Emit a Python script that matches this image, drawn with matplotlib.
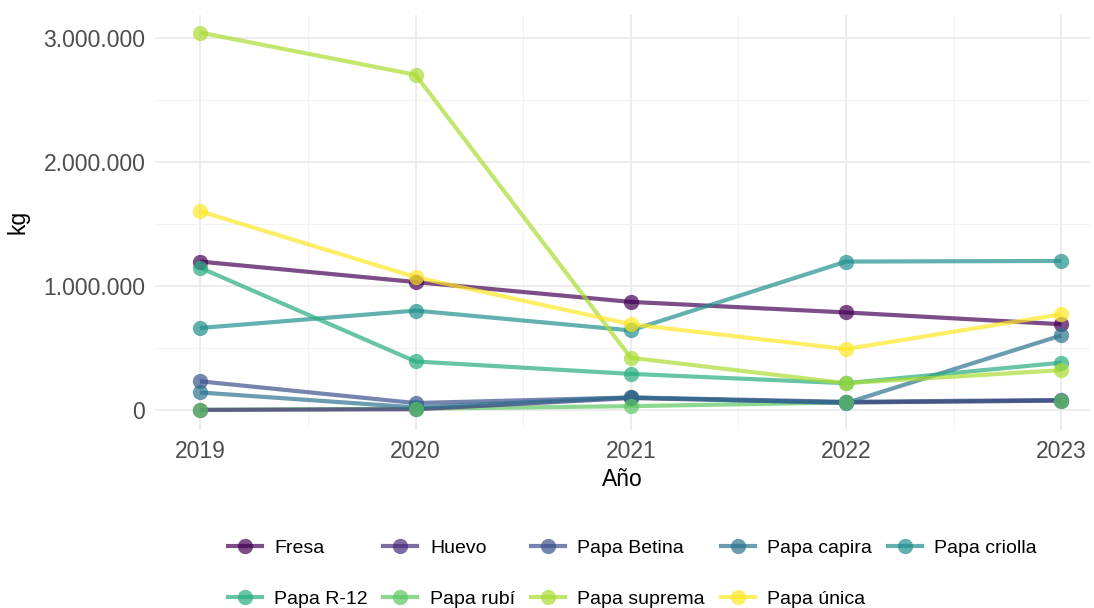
import numpy as np
import matplotlib
matplotlib.use("Agg")
import matplotlib.pyplot as plt
from matplotlib.lines import Line2D
from matplotlib.ticker import FuncFormatter, MultipleLocator

years = [2019, 2020, 2021, 2022, 2023]
products = ["Fresa", "Huevo", "Papa Betina", "Papa capira", "Papa criolla",
            "Papa R-12", "Papa rubí", "Papa suprema", "Papa única"]

fresa = [1195000, 1030000, 870000, 785000, 690000]
huevo = [0, 5000, 95000, 60000, 75000]
papa_betina = [230000, 55000, 100000, 65000, 80000]
papa_capira = [140000, 20000, 100000, 55000, 600000]
papa_criolla = [660000, 800000, 640000, 1195000, 1200000]
papa_r12 = [1145000, 390000, 290000, 215000, 380000]
papa_rubi = [0, 10000, 30000, 60000, 75000]
papa_suprema = [3040000, 2700000, 420000, 215000, 320000]
papa_unica = [1600000, 1070000, 690000, 490000, 770000]

series = [fresa, huevo, papa_betina, papa_capira, papa_criolla,
          papa_r12, papa_rubi, papa_suprema, papa_unica]

colors = ["#440154", "#472D7B", "#3B528B", "#2C728E", "#21908C",
          "#27AD81", "#5DC863", "#AADC32", "#FDE725"]

plt.rcParams['font.family'] = ['Liberation Sans', 'DejaVu Sans']

fig = plt.figure(figsize=(10.94, 6.08), dpi=100)
ax = fig.add_axes([0.1417, 0.293, 0.855, 0.683])

# lines first, points on top (like geom_line + geom_point)
handles = []
for name, vals, c in zip(products, series, colors):
    z = 1.8 if name == "Papa rubí" else 2
    ax.plot(years, vals, color=c, alpha=0.7, lw=3, zorder=z, solid_capstyle='butt')
    ax.plot(years, vals, color=c, alpha=0.7, ls='none', marker='o', ms=11,
            markeredgewidth=0, zorder=3)
    handles.append(Line2D([], [], color=c, alpha=0.7, lw=3, marker='o', ms=11,
                          markeredgewidth=0, label=name))

ax.set_xlim(2018.79, 2023.135)
ax.set_ylim(-161000, 3185000)
ax.xaxis.set_major_locator(MultipleLocator(1))
ax.xaxis.set_minor_locator(MultipleLocator(0.5))
ax.yaxis.set_major_locator(MultipleLocator(1000000))
ax.yaxis.set_minor_locator(MultipleLocator(500000))
ax.yaxis.set_major_formatter(FuncFormatter(lambda v, p: f"{int(v):,}".replace(",", ".")))

ax.grid(which='major', color='#EBEBEB', lw=1.3)
ax.grid(which='minor', color='#F3F3F3', lw=0.8)
ax.set_axisbelow(True)
for s in ax.spines.values():
    s.set_visible(False)
ax.tick_params(which='both', length=0)
ax.tick_params(labelsize=16.5, labelcolor='#4D4D4D', pad=7)

ax.set_xlabel("Año", fontsize=16.5, labelpad=4)
ax.set_ylabel("kg", fontsize=16.5, labelpad=10)

# legend filled row by row (matplotlib fills by column)
order = [0, 5, 1, 6, 2, 7, 3, 8, 4]
fig.legend([handles[i] for i in order], [products[i] for i in order],
           loc='lower center', ncol=5, bbox_to_anchor=(0.578, -0.028),
           frameon=False, fontsize=14, handlelength=1.75, columnspacing=0.8,
           labelspacing=1.7, handletextpad=0.65)

fig.savefig("out.png", dpi=100)
